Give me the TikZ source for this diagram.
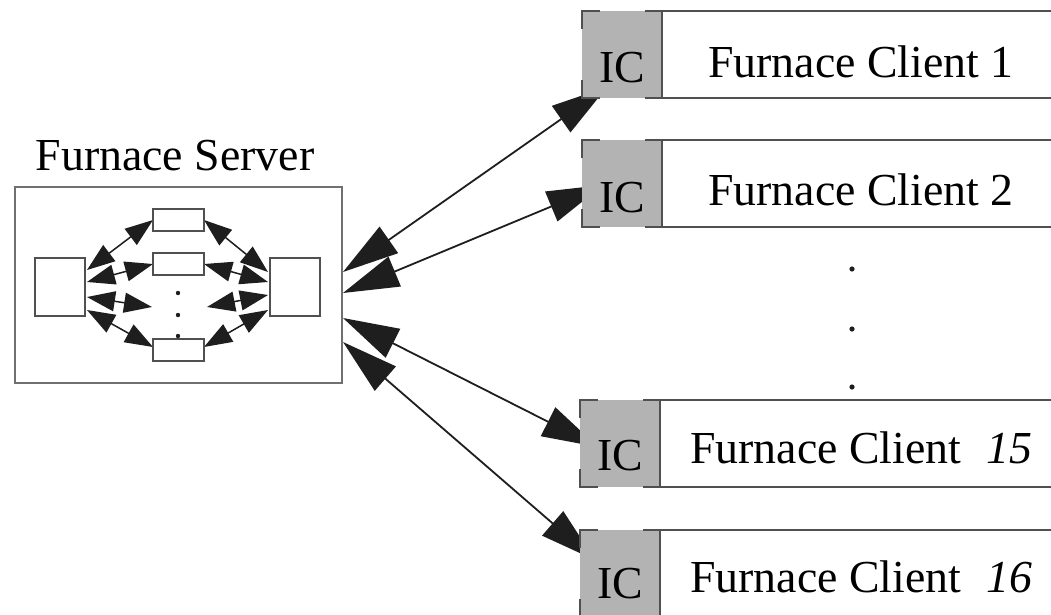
\documentclass[tikz,border=0pt]{standalone}
\usepackage{fontspec}
\setmainfont{Liberation Serif}
\usetikzlibrary{arrows.meta,calc}
\pgfdeclarelayer{behind}
\pgfsetlayers{behind,main}
\definecolor{icgray}{HTML}{B3B3B3}
\definecolor{boxline}{HTML}{505050}
\definecolor{srvline}{HTML}{707070}
\definecolor{arrowc}{HTML}{1E1E1E}
\newcommand{\bigfont}{\fontsize{45.8pt}{55pt}\selectfont}
\begin{document}
\begin{tikzpicture}[x=1pt,y=-1pt,
 icbox/.style={fill=icgray, minimum width=81pt, minimum height=87pt, inner sep=0pt, outer sep=0pt, anchor=north west},
 clientbox/.style={draw=boxline, line width=2.2pt, fill=white, minimum width=440pt, minimum height=87pt, inner sep=0pt, outer sep=0pt, anchor=north west},
 cornerline/.style={draw=boxline, line width=2.4pt},
 lbl/.style={font=\bigfont, inner sep=0pt, anchor=base},
 clbl/.style={font=\bigfont, inner sep=0pt, anchor=base west},
 serverbox/.style={draw=srvline, line width=2pt, anchor=north west, minimum width=327pt, minimum height=196pt, inner sep=0pt, outer sep=0pt},
 proc/.style={draw=boxline, line width=1.6pt, fill=white, anchor=north west, inner sep=0pt, outer sep=0pt},
 bigarrow/.style={draw=arrowc, line width=1.8pt, {Triangle[length=56pt,width=32pt]}-{Triangle[length=56pt,width=32pt]}},
 smallarrow/.style={draw=arrowc, line width=1.5pt, {Triangle[length=28pt,width=20pt]}-{Triangle[length=28pt,width=20pt]}},
 dot/.style={fill=arrowc}
]
\useasboundingbox (0,0) rectangle (1051,614);
\clip (0,0) rectangle (1051,614);

% server
\node[serverbox] (server) at (15,187) {};
\node[lbl] (slbl) at (175,170) {Furnace Server};
\node[proc, minimum width=50pt, minimum height=58pt] (ls) at (35,258) {};
\node[proc, minimum width=50pt, minimum height=58pt] (rs) at (270,258) {};
\node[proc, minimum width=51pt, minimum height=22pt] (r1) at (153,209) {};
\node[proc, minimum width=51pt, minimum height=22pt] (r2) at (153,253) {};
\node[proc, minimum width=51pt, minimum height=22pt] (r3) at (153,339) {};
\coordinate (ml) at (152,307);
\coordinate (mr) at (207,307);
\fill[dot] (178,293) circle (2.2);
\fill[dot] (178,315) circle (2.2);
\fill[dot] (178,336) circle (2.2);

% clients
\node[icbox] (ic1) at (582,11) {};
\node[clientbox] (cb1) at (662,11) {};
\node[icbox] (ic2) at (582,140) {};
\node[clientbox] (cb2) at (662,140) {};
\node[icbox] (ic15) at (580,400) {};
\node[clientbox] (cb15) at (660,400) {};
\node[icbox] (ic16) at (580,530) {};
\node[clientbox] (cb16) at (660,530) {};

\foreach \n in {ic1,ic2,ic15,ic16}{
  \draw[cornerline] ($(\n.north west)+(0,18)$) -- (\n.north west) -- ($(\n.north west)+(18,0)$);
  \draw[cornerline] ($(\n.south west)+(0,-18)$) -- (\n.south west) -- ($(\n.south west)+(18,0)$);
  \draw[cornerline] ($(\n.north east)+(-18,0)$) -- (\n.north east);
  \draw[cornerline] ($(\n.south east)+(-18,0)$) -- (\n.south east);
}

\node[lbl] (ict1) at ($(ic1.north)+(0,71)$) {IC};
\node[lbl] (ict2) at ($(ic2.north)+(0,72)$) {IC};
\node[lbl] (ict15) at ($(ic15.north)+(0,70)$) {IC};
\node[lbl] (ict16) at ($(ic16.north)+(0,68)$) {IC};

\node[clbl] (ct1) at ($(cb1.north west)+(46,66)$) {Furnace Client 1};
\node[clbl] (ct2) at ($(cb2.north west)+(46,65)$) {Furnace Client 2};
\node[clbl] (ct15) at ($(cb15.north west)+(30,63)$) {Furnace Client\hspace{25pt}\textit{15}};
\node[clbl] (ct16) at ($(cb16.north west)+(30,62)$) {Furnace Client\hspace{25pt}\textit{16}};

\fill[dot] (852,269) circle (2.6);
\fill[dot] (852,329) circle (2.6);
\fill[dot] (852,387) circle (2.6);

\begin{pgfonlayer}{behind}
  % inner arrows
  \draw[smallarrow] ($(ls.north east)+(2,12)$) -- (r1.west);
  \draw[smallarrow] ($(ls.north east)+(2,24)$) -- (r2.west);
  \draw[smallarrow] ($(ls.north east)+(2,39)$) -- (ml);
  \draw[smallarrow] ($(ls.north east)+(2,52)$) -- ($(r3.west)+(0,-3)$);
  \draw[smallarrow] (r1.east) -- ($(rs.north west)+(-2,14)$);
  \draw[smallarrow] (r2.east) -- ($(rs.north west)+(-2,24)$);
  \draw[smallarrow] (mr) -- ($(rs.north west)+(-2,37)$);
  \draw[smallarrow] ($(r3.east)+(0,-3)$) -- ($(rs.north west)+(-2,52)$);
  % outer arrows
  \draw[bigarrow] ($(server.north east)+(1,85)$) -- ($(ic1.south west)+(25,-11)$);
  \draw[bigarrow] ($(server.north east)+(1,106)$) -- ($(ic2.north west)+(21,45)$);
  \draw[bigarrow] ($(server.north east)+(1,131)$) -- ($(ic15.north west)+(18,47)$);
  \draw[bigarrow] ($(server.north east)+(1,155)$) -- ($(ic16.north west)+(15,30)$);
\end{pgfonlayer}
\end{tikzpicture}
\end{document}
